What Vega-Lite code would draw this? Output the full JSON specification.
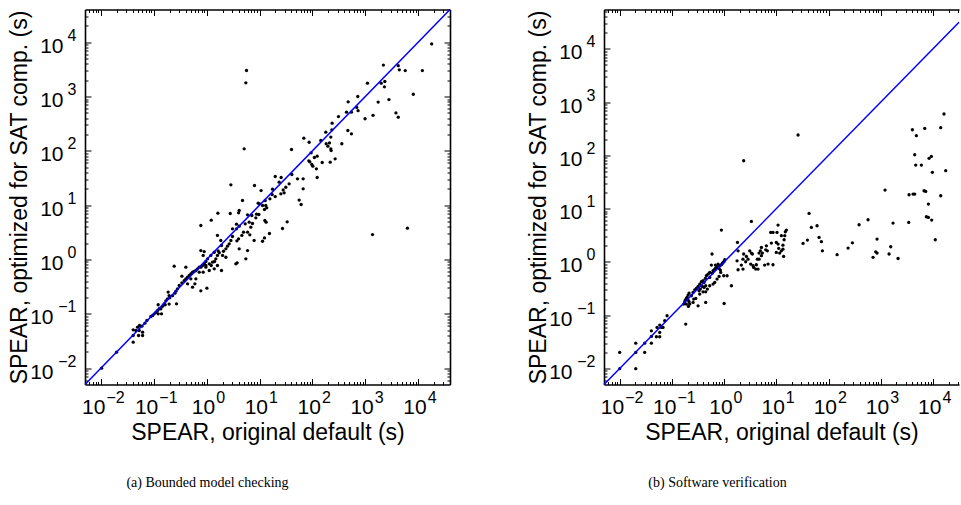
{
"$schema": "https://vega.github.io/schema/vega-lite/v6.json",
"padding": {"left": 8, "top": 6.5, "right": 0, "bottom": 0},
"background": "white",
"bounds": "flush",
"spacing": 154,
"config": {"view": {"stroke": null}, "axis": {"grid": false, "labelFont": "Liberation Sans", "titleFont": "Liberation Sans", "labelColor": "black", "titleColor": "black", "domainColor": "black", "tickColor": "black", "titleFontWeight": "normal", "labelFontSize": 21, "titleFontSize": 23, "domainWidth": 1.6, "tickWidth": 1, "labelFlush": false, "labelOverlap": false, "labelBound": false}},
"datasets": {
"bmc": [
{"x":18000,"y":9300},{"x":2200,"y":3800},{"x":4200,"y":3700},{"x":4400,"y":3100},{"x":5700,"y":3000},{"x":12000,"y":3000},{"x":1100,"y":1760},{"x":2000,"y":1760},{"x":2340,"y":1890},{"x":2300,"y":1510},{"x":8100,"y":1100},{"x":2800,"y":880},{"x":1750,"y":790},{"x":720,"y":1000},{"x":474,"y":800},{"x":690,"y":630},{"x":730,"y":550},{"x":990,"y":390},{"x":1400,"y":450},{"x":3800,"y":500},{"x":4200,"y":417},{"x":441,"y":515},{"x":547,"y":515},{"x":311,"y":428},{"x":236,"y":323},{"x":233,"y":244},{"x":468,"y":237},{"x":547,"y":206},{"x":223,"y":179},{"x":210,"y":140},{"x":196,"y":122},{"x":226,"y":101},{"x":360,"y":135},{"x":179,"y":221},{"x":144,"y":155},{"x":68.8,"y":171},{"x":86.7,"y":144},{"x":94.6,"y":91.9},{"x":109,"y":75.4},{"x":123,"y":79.8},{"x":85.5,"y":65.5},{"x":89.3,"y":62.8},{"x":97.5,"y":56},{"x":102,"y":52.2},{"x":119,"y":46.6},{"x":153,"y":61},{"x":217,"y":61.9},{"x":269,"y":71.3},{"x":223,"y":109},{"x":182,"y":135},{"x":123,"y":32.3},{"x":40.2,"y":106},{"x":40.8,"y":36.7},{"x":52.2,"y":30.5},{"x":66.8,"y":30.5},{"x":66.8,"y":20},{"x":36.3,"y":24.7},{"x":19.8,"y":33.7},{"x":25.6,"y":32.3},{"x":23.5,"y":26.5},{"x":17.6,"y":19.7},{"x":31.4,"y":21.4},{"x":28,"y":19.1},{"x":29.2,"y":16.9},{"x":25.3,"y":16.2},{"x":19.8,"y":14.4},{"x":15.7,"y":13.1},{"x":13.7,"y":8.93},{"x":13.1,"y":9.86},{"x":17.3,"y":15.7},{"x":12.8,"y":12.2},{"x":9.98,"y":10.6},{"x":9.42,"y":10.9},{"x":11.4,"y":9.86},{"x":56.1,"y":12.4},{"x":61.2,"y":10.3},{"x":8.03,"y":23},{"x":10.7,"y":18.6},{"x":33.3,"y":4.93},{"x":27.2,"y":3.72},{"x":15.4,"y":3.01},{"x":12.6,"y":5.22},{"x":13.3,"y":4.86},{"x":11.4,"y":2.17},{"x":12.4,"y":2.5},{"x":8.51,"y":5.85},{"x":7.15,"y":6.45},{"x":7.36,"y":4.6},{"x":6.37,"y":4.86},{"x":6.84,"y":3.94},{"x":5.93,"y":3.18},{"x":8.77,"y":6.83},{"x":9.71,"y":6.73},{"x":12.4,"y":8.32},{"x":2.87,"y":23.7},{"x":4.76,"y":12.2},{"x":4.12,"y":7.98},{"x":4.01,"y":7.22},{"x":2.79,"y":7.02},{"x":3.67,"y":4.47},{"x":4.12,"y":4.11},{"x":5.93,"y":6.64},{"x":5.35,"y":4.53},{"x":4.98,"y":3.18},{"x":4.63,"y":2.77},{"x":4.01,"y":2.4},{"x":3.73,"y":2.21},{"x":3.67,"y":3.67},{"x":3.08,"y":3.67},{"x":3.08,"y":2.65},{"x":2.87,"y":2.24},{"x":2.67,"y":1.94},{"x":2.48,"y":1.76},{"x":2.31,"y":1.57},{"x":1.85,"y":2.24},{"x":1.91,"y":1.81},{"x":2.08,"y":1.42},{"x":1.65,"y":1.44},{"x":1.73,"y":1.33},{"x":2.0,"y":1.19},{"x":1.6,"y":1.19},{"x":1.49,"y":1.03},{"x":1.41,"y":0.919},{"x":1.29,"y":0.893},{"x":1.22,"y":0.776},{"x":1.63,"y":7.12},{"x":1.22,"y":5.3},{"x":0.776,"y":4.22},{"x":1.6,"y":2.77},{"x":2.31,"y":1.1},{"x":4.12,"y":1.57},{"x":5.93,"y":1.46},{"x":5.51,"y":1.03},{"x":6.55,"y":2.84},{"x":7.9,"y":2.24},{"x":3.56,"y":0.832},{"x":3.78,"y":0.868},{"x":1.91,"y":0.628},{"x":1.04,"y":1.03},{"x":0.966,"y":0.919},{"x":0.898,"y":0.832},{"x":0.835,"y":0.776},{"x":0.776,"y":0.723},{"x":0.723,"y":0.723},{"x":0.671,"y":0.673},{"x":0.625,"y":0.628},{"x":0.581,"y":0.601},{"x":0.541,"y":0.585},{"x":0.502,"y":0.545},{"x":0.468,"y":0.508},{"x":0.435,"y":0.473},{"x":0.404,"y":0.441},{"x":0.376,"y":0.41},{"x":0.34,"y":0.372},{"x":0.435,"y":0.356},{"x":0.502,"y":0.441},{"x":0.625,"y":0.441},{"x":0.723,"y":0.585},{"x":0.966,"y":0.723},{"x":1.12,"y":0.832},{"x":1.2,"y":1.19},{"x":1.39,"y":1.36},{"x":0.898,"y":1.4},{"x":0.776,"y":1.46},{"x":0.859,"y":1.19},{"x":1.01,"y":0.297},{"x":0.776,"y":0.265},{"x":1.6,"y":0.776},{"x":1.39,"y":0.673},{"x":1.12,"y":0.628},{"x":0.859,"y":0.585},{"x":0.966,"y":0.776},{"x":0.599,"y":0.356},{"x":0.541,"y":0.31},{"x":0.404,"y":0.723},{"x":0.243,"y":0.754},{"x":0.34,"y":0.493},{"x":0.303,"y":0.332},{"x":0.281,"y":0.288},{"x":0.262,"y":0.261},{"x":0.251,"y":0.24},{"x":0.226,"y":0.217},{"x":0.201,"y":0.197},{"x":0.182,"y":0.189},{"x":0.169,"y":0.173},{"x":0.157,"y":0.153},{"x":0.146,"y":0.138},{"x":0.136,"y":0.124},{"x":0.127,"y":0.124},{"x":0.118,"y":0.115},{"x":0.11,"y":0.107},{"x":0.102,"y":0.1},{"x":0.0947,"y":0.0931},{"x":0.0881,"y":0.0893},{"x":0.121,"y":0.147},{"x":0.187,"y":0.251},{"x":0.195,"y":0.217},{"x":0.195,"y":0.151},{"x":0.269,"y":0.153},{"x":0.164,"y":0.147},{"x":0.121,"y":0.1},{"x":0.14,"y":0.1},{"x":0.0741,"y":0.0754},{"x":0.0679,"y":0.0673},{"x":0.0596,"y":0.0593},{"x":0.0538,"y":0.061},{"x":0.0493,"y":0.0569},{"x":0.0408,"y":0.0508},{"x":0.0458,"y":0.0493},{"x":0.053,"y":0.0493},{"x":0.0614,"y":0.046},{"x":0.0408,"y":0.0399},{"x":0.0515,"y":0.0399},{"x":0.0614,"y":0.0399},{"x":0.0408,"y":0.0301},{"x":0.0198,"y":0.0197},{"x":0.0103,"y":0.01},{"x":1370,"y":2.88},{"x":6270,"y":3.77},{"x":5.67,"y":3010},{"x":5.51,"y":1790},{"x":5.12,"y":109}
],
"swv": [
{"x":16300,"y":600},{"x":4040,"y":304},{"x":6970,"y":322},{"x":14100,"y":332},{"x":4820,"y":235},{"x":4480,"y":103},{"x":4680,"y":66},{"x":6010,"y":66},{"x":8430,"y":88.1},{"x":9350,"y":96},{"x":17600,"y":51.7},{"x":9770,"y":48.1},{"x":1210,"y":22.4},{"x":3490,"y":18.3},{"x":4160,"y":18.8},{"x":4480,"y":18.8},{"x":6760,"y":21.7},{"x":7280,"y":21.1},{"x":14100,"y":17.5},{"x":8190,"y":12.2},{"x":3440,"y":5.53},{"x":7500,"y":7.06},{"x":8190,"y":6.85},{"x":9480,"y":6.11},{"x":11100,"y":2.61},{"x":26.1,"y":242},{"x":2.37,"y":79.6},{"x":42.4,"y":8.16},{"x":32.5,"y":2.23},{"x":39.4,"y":2.57},{"x":46.9,"y":4.45},{"x":60.3,"y":4.79},{"x":65.9,"y":2.89},{"x":73,"y":2.4},{"x":76.3,"y":1.62},{"x":146,"y":1.37},{"x":237,"y":1.82},{"x":287,"y":2.29},{"x":385,"y":5.0},{"x":572,"y":6.21},{"x":851,"y":2.69},{"x":713,"y":1.22},{"x":802,"y":1.55},{"x":851,"y":1.47},{"x":1445,"y":1.41},{"x":1556,"y":1.93},{"x":1722,"y":5.37},{"x":2148,"y":1.16},{"x":0.887,"y":3.97},{"x":3.33,"y":5.77},{"x":10.8,"y":4.93},{"x":10.3,"y":3.59},{"x":7.81,"y":3.59},{"x":8.64,"y":3.59},{"x":15.6,"y":3.97},{"x":14.9,"y":3.69},{"x":14.5,"y":3.11},{"x":12.5,"y":3.11},{"x":14.1,"y":2.61},{"x":10,"y":2.33},{"x":10.8,"y":2.17},{"x":11.1,"y":1.8},{"x":13.4,"y":2.07},{"x":13.4,"y":1.74},{"x":12.5,"y":1.62},{"x":13.8,"y":1.27},{"x":10,"y":1.51},{"x":11.6,"y":1.47},{"x":8.04,"y":2.26},{"x":6.45,"y":2.01},{"x":6.27,"y":1.69},{"x":6.74,"y":1.62},{"x":6.95,"y":0.912},{"x":8.64,"y":0.885},{"x":5.98,"y":0.873},{"x":5.18,"y":1.87},{"x":4.95,"y":1.62},{"x":4.67,"y":1.47},{"x":5.41,"y":1.47},{"x":5.18,"y":1.31},{"x":4.67,"y":1.13},{"x":4.33,"y":1.13},{"x":4.15,"y":0.885},{"x":4.03,"y":0.734},{"x":3.48,"y":1.41},{"x":3.33,"y":1.47},{"x":3.09,"y":1.62},{"x":2.67,"y":1.27},{"x":2.87,"y":1.13},{"x":2.59,"y":1.01},{"x":2.37,"y":1.41},{"x":2.3,"y":1.13},{"x":1.8,"y":2.33},{"x":1.85,"y":1.62},{"x":1.77,"y":1.05},{"x":1.85,"y":0.714},{"x":2.14,"y":0.873},{"x":3.58,"y":0.849},{"x":3.69,"y":0.789},{"x":3.23,"y":0.912},{"x":4.47,"y":0.734},{"x":2.3,"y":0.734},{"x":1.03,"y":1.1},{"x":1.0,"y":1.02},{"x":0.954,"y":0.98},{"x":0.926,"y":0.938},{"x":0.887,"y":0.885},{"x":0.824,"y":0.849},{"x":0.765,"y":0.912},{"x":0.732,"y":0.812},{"x":0.8,"y":0.756},{"x":0.69,"y":0.767},{"x":0.661,"y":0.734},{"x":0.614,"y":0.683},{"x":0.596,"y":0.618},{"x":0.681,"y":0.873},{"x":0.57,"y":0.873},{"x":0.848,"y":0.703},{"x":0.861,"y":0.636},{"x":0.8,"y":0.535},{"x":0.732,"y":0.477},{"x":0.661,"y":0.413},{"x":0.982,"y":0.551},{"x":1.14,"y":0.551},{"x":1.38,"y":0.357},{"x":1.0,"y":0.166},{"x":0.587,"y":1.41},{"x":0.53,"y":0.636},{"x":0.492,"y":0.59},{"x":0.457,"y":0.551},{"x":0.438,"y":0.491},{"x":0.53,"y":0.513},{"x":0.614,"y":0.384},{"x":0.444,"y":0.357},{"x":0.413,"y":0.413},{"x":0.395,"y":0.444},{"x":0.367,"y":0.425},{"x":0.341,"y":0.384},{"x":0.383,"y":0.347},{"x":0.413,"y":0.332},{"x":0.351,"y":0.309},{"x":0.317,"y":0.347},{"x":0.294,"y":0.318},{"x":0.274,"y":0.3},{"x":0.331,"y":0.288},{"x":0.395,"y":0.275},{"x":0.341,"y":0.249},{"x":0.444,"y":0.275},{"x":0.478,"y":0.309},{"x":0.53,"y":0.357},{"x":0.286,"y":0.207},{"x":0.444,"y":0.174},{"x":0.317,"y":0.15},{"x":0.254,"y":0.267},{"x":0.236,"y":0.232},{"x":0.213,"y":0.26},{"x":0.204,"y":0.239},{"x":0.195,"y":0.216},{"x":0.189,"y":0.207},{"x":0.181,"y":0.192},{"x":0.176,"y":0.179},{"x":0.204,"y":0.192},{"x":0.213,"y":0.179},{"x":0.219,"y":0.162},{"x":0.189,"y":0.162},{"x":0.168,"y":0.162},{"x":0.207,"y":0.146},{"x":0.254,"y":0.174},{"x":0.262,"y":0.201},{"x":0.184,"y":0.0681},{"x":0.0807,"y":0.0976},{"x":0.0728,"y":0.0786},{"x":0.0676,"y":0.0589},{"x":0.0628,"y":0.0589},{"x":0.0584,"y":0.0652},{"x":0.0519,"y":0.0589},{"x":0.0584,"y":0.0475},{"x":0.0584,"y":0.0394},{"x":0.0504,"y":0.0394},{"x":0.0404,"y":0.0509},{"x":0.0404,"y":0.0399},{"x":0.0404,"y":0.0299},{"x":0.0301,"y":0.0299},{"x":0.0301,"y":0.02},{"x":0.0203,"y":0.0299},{"x":0.0203,"y":0.02},{"x":0.0203,"y":0.0099},{"x":0.01,"y":0.02},{"x":0.01,"y":0.0099}
],
"diag_a": [{"x":0.005,"y":0.005},{"x":40000,"y":40000}],
"diag_b": [{"x":0.005,"y":0.005},{"x":31600,"y":31600}]
},
"hconcat": [
{
"width": 365, "height": 375,
"title": {"text": "(a) Bounded model checking", "orient": "bottom", "anchor": "middle", "frame": "group", "font": "Liberation Serif", "fontSize": 14, "fontWeight": "normal", "color": "black", "baseline": "alphabetic", "offset": 42, "dx": -60},
"layer": [
{"data": {"name": "bmc"}, "mark": {"type": "circle", "size": 11, "color": "black", "opacity": 1},
 "encoding": {
  "x": {"field": "x", "type": "quantitative", "scale": {"type": "log", "domain": [0.005, 40000], "nice": false}, "axis": {"orient": "bottom", "values": [0.01,0.1,1,10,100,1000,10000], "labelExpr": "'10'", "labelAlign": "right", "labelOffset": {"condition": {"test": "datum.value < 1", "value": 4}, "value": 8}, "ticks": false, "tickSize": 0, "domain": true, "labelBaseline": "alphabetic", "labelPadding": 29, "minExtent": 36, "maxExtent": 36, "title": "SPEAR, original default (s)", "titleBaseline": "alphabetic", "titlePadding": 19}},
  "y": {"field": "y", "type": "quantitative", "scale": {"type": "log", "domain": [0.005, 40000], "nice": false}, "axis": {"orient": "left", "values": [0.01,0.1,1,10,100,1000,10000], "labelExpr": "'10'", "ticks": false, "tickSize": 0, "domain": true, "labelBaseline": "alphabetic", "labelAlign": "right", "labelPadding": {"condition": {"test": "datum.value < 1", "value": 32}, "value": 22}, "labelOffset": 10, "minExtent": 46, "maxExtent": 46, "title": "SPEAR, optimized for SAT comp. (s)", "titleBaseline": "alphabetic", "titlePadding": 13}}
 }},
{"data": {"name": "diag_a"}, "mark": {"type": "line", "color": "#0000ff", "strokeWidth": 1.5},
 "encoding": {
  "x": {"field": "x", "type": "quantitative", "scale": {"type": "log", "domain": [0.005, 40000], "nice": false}, "axis": {"orient": "top", "values": [0.01,0.1,1,10,100,1000,10000], "labels": false, "title": null, "tickSize": -6, "domain": true}},
  "y": {"field": "y", "type": "quantitative", "scale": {"type": "log", "domain": [0.005, 40000], "nice": false}, "axis": {"orient": "right", "values": [0.01,0.1,1,10,100,1000,10000], "labels": false, "title": null, "tickSize": -6, "domain": true}}
 }},
{"data": {"name": "diag_a"}, "mark": {"type": "line", "opacity": 0},
 "encoding": {
  "x": {"field": "x", "type": "quantitative", "scale": {"type": "log", "domain": [0.005, 40000], "nice": false}, "axis": {"orient": "bottom", "values": [0.01,0.1,1,10,100,1000,10000], "labels": false, "title": null, "tickSize": -6, "domain": false}},
  "y": {"field": "y", "type": "quantitative", "scale": {"type": "log", "domain": [0.005, 40000], "nice": false}, "axis": {"orient": "left", "values": [0.01,0.1,1,10,100,1000,10000], "labels": false, "title": null, "tickSize": -6, "domain": false}}
 }},
{"data": {"name": "diag_a"}, "mark": {"type": "line", "opacity": 0},
 "encoding": {
  "x": {"field": "x", "type": "quantitative", "scale": {"type": "log", "domain": [0.005, 40000], "nice": false}, "axis": {"orient": "bottom", "values": [0.006,0.007,0.008,0.009,0.02,0.03,0.04,0.05,0.06,0.07,0.08,0.09,0.2,0.3,0.4,0.5,0.6,0.7,0.8,0.9,2,3,4,5,6,7,8,9,20,30,40,50,60,70,80,90,200,300,400,500,600,700,800,900,2000,3000,4000,5000,6000,7000,8000,9000,20000,30000], "labels": false, "title": null, "tickSize": -3, "domain": false}},
  "y": {"field": "y", "type": "quantitative", "scale": {"type": "log", "domain": [0.005, 40000], "nice": false}, "axis": {"orient": "left", "values": [0.006,0.007,0.008,0.009,0.02,0.03,0.04,0.05,0.06,0.07,0.08,0.09,0.2,0.3,0.4,0.5,0.6,0.7,0.8,0.9,2,3,4,5,6,7,8,9,20,30,40,50,60,70,80,90,200,300,400,500,600,700,800,900,2000,3000,4000,5000,6000,7000,8000,9000,20000,30000], "labels": false, "title": null, "tickSize": -3, "domain": false}}
 }},
{"data": {"name": "diag_a"}, "mark": {"type": "line", "opacity": 0},
 "encoding": {
  "x": {"field": "x", "type": "quantitative", "scale": {"type": "log", "domain": [0.005, 40000], "nice": false}, "axis": {"orient": "top", "values": [0.006,0.007,0.008,0.009,0.02,0.03,0.04,0.05,0.06,0.07,0.08,0.09,0.2,0.3,0.4,0.5,0.6,0.7,0.8,0.9,2,3,4,5,6,7,8,9,20,30,40,50,60,70,80,90,200,300,400,500,600,700,800,900,2000,3000,4000,5000,6000,7000,8000,9000,20000,30000], "labels": false, "title": null, "tickSize": -3, "domain": false}},
  "y": {"field": "y", "type": "quantitative", "scale": {"type": "log", "domain": [0.005, 40000], "nice": false}, "axis": {"orient": "right", "values": [0.006,0.007,0.008,0.009,0.02,0.03,0.04,0.05,0.06,0.07,0.08,0.09,0.2,0.3,0.4,0.5,0.6,0.7,0.8,0.9,2,3,4,5,6,7,8,9,20,30,40,50,60,70,80,90,200,300,400,500,600,700,800,900,2000,3000,4000,5000,6000,7000,8000,9000,20000,30000], "labels": false, "title": null, "tickSize": -3, "domain": false}}
 }},
{"data": {"name": "diag_a"}, "mark": {"type": "line", "opacity": 0},
 "encoding": {
  "x": {"field": "x", "type": "quantitative", "scale": {"type": "log", "domain": [0.005, 40000], "nice": false}, "axis": {"orient": "bottom", "values": [0.01,0.1,1,10,100,1000,10000], "labelExpr": "(datum.value < 1 ? '−' : '') + abs(round(log(datum.value)/LN10))", "labelFontSize": 16, "labelAlign": "left", "labelOffset": {"condition": {"test": "datum.value < 1", "value": 5}, "value": 9}, "labelBaseline": "alphabetic", "labelPadding": 18, "ticks": false, "tickSize": 0, "domain": false, "title": null}},
  "y": {"field": "y", "type": "quantitative", "scale": {"type": "log", "domain": [0.005, 40000], "nice": false}, "axis": {"orient": "left", "values": [0.01,0.1,1,10,100,1000,10000], "labelExpr": "(datum.value < 1 ? '−' : '') + abs(round(log(datum.value)/LN10))", "labelFontSize": 16, "labelAlign": "right", "labelOffset": -2, "labelBaseline": "alphabetic", "labelPadding": 9, "ticks": false, "tickSize": 0, "domain": false, "title": null}}
 }}
],
"resolve": {"axis": {"x": "independent", "y": "independent"}}
},
{
"width": 355, "height": 375,
"title": {"text": "(b) Software verification", "orient": "bottom", "anchor": "middle", "frame": "group", "font": "Liberation Serif", "fontSize": 14, "fontWeight": "normal", "color": "black", "baseline": "alphabetic", "offset": 42, "dx": -64},
"layer": [
{"data": {"name": "swv"}, "mark": {"type": "circle", "size": 11, "color": "black", "opacity": 1},
 "encoding": {
  "x": {"field": "x", "type": "quantitative", "scale": {"type": "log", "domain": [0.005, 31600], "nice": false}, "axis": {"orient": "bottom", "values": [0.01,0.1,1,10,100,1000,10000], "labelExpr": "'10'", "labelAlign": "right", "labelOffset": {"condition": {"test": "datum.value < 1", "value": 4}, "value": 8}, "ticks": false, "tickSize": 0, "domain": true, "labelBaseline": "alphabetic", "labelPadding": 29, "minExtent": 36, "maxExtent": 36, "title": "SPEAR, original default (s)", "titleBaseline": "alphabetic", "titlePadding": 19}},
  "y": {"field": "y", "type": "quantitative", "scale": {"type": "log", "domain": [0.005, 55000], "nice": false}, "axis": {"orient": "left", "values": [0.01,0.1,1,10,100,1000,10000], "labelExpr": "'10'", "ticks": false, "tickSize": 0, "domain": true, "labelBaseline": "alphabetic", "labelAlign": "right", "labelPadding": {"condition": {"test": "datum.value < 1", "value": 32}, "value": 22}, "labelOffset": 10, "minExtent": 46, "maxExtent": 46, "title": "SPEAR, optimized for SAT comp. (s)", "titleBaseline": "alphabetic", "titlePadding": 13}}
 }},
{"data": {"name": "diag_b"}, "mark": {"type": "line", "color": "#0000ff", "strokeWidth": 1.5},
 "encoding": {
  "x": {"field": "x", "type": "quantitative", "scale": {"type": "log", "domain": [0.005, 31600], "nice": false}, "axis": {"orient": "top", "values": [0.01,0.1,1,10,100,1000,10000], "labels": false, "title": null, "tickSize": -6, "domain": true}},
  "y": {"field": "y", "type": "quantitative", "scale": {"type": "log", "domain": [0.005, 55000], "nice": false}, "axis": {"orient": "left", "values": [0.01,0.1,1,10,100,1000,10000], "labels": false, "title": null, "tickSize": -6, "domain": false}}
 }},
{"data": {"name": "diag_b"}, "mark": {"type": "line", "opacity": 0},
 "encoding": {
  "x": {"field": "x", "type": "quantitative", "scale": {"type": "log", "domain": [0.005, 31600], "nice": false}, "axis": {"orient": "bottom", "values": [0.01,0.1,1,10,100,1000,10000], "labels": false, "title": null, "tickSize": -6, "domain": false}},
  "y": {"field": "y", "type": "quantitative", "scale": {"type": "log", "domain": [0.005, 55000], "nice": false}, "axis": {"orient": "left", "values": [0.006,0.007,0.008,0.009,0.02,0.03,0.04,0.05,0.06,0.07,0.08,0.09,0.2,0.3,0.4,0.5,0.6,0.7,0.8,0.9,2,3,4,5,6,7,8,9,20,30,40,50,60,70,80,90,200,300,400,500,600,700,800,900,2000,3000,4000,5000,6000,7000,8000,9000,20000,30000,40000,50000], "labels": false, "title": null, "tickSize": -3, "domain": false}}
 }},
{"data": {"name": "diag_b"}, "mark": {"type": "line", "opacity": 0},
 "encoding": {
  "x": {"field": "x", "type": "quantitative", "scale": {"type": "log", "domain": [0.005, 31600], "nice": false}, "axis": {"orient": "bottom", "values": [0.006,0.007,0.008,0.009,0.02,0.03,0.04,0.05,0.06,0.07,0.08,0.09,0.2,0.3,0.4,0.5,0.6,0.7,0.8,0.9,2,3,4,5,6,7,8,9,20,30,40,50,60,70,80,90,200,300,400,500,600,700,800,900,2000,3000,4000,5000,6000,7000,8000,9000,20000,30000], "labels": false, "title": null, "tickSize": -3, "domain": false}},
  "y": {"field": "y", "type": "quantitative", "scale": {"type": "log", "domain": [0.005, 55000], "nice": false}, "axis": {"orient": "left", "values": [0.01,0.1,1,10,100,1000,10000], "labelExpr": "(datum.value < 1 ? '−' : '') + abs(round(log(datum.value)/LN10))", "labelFontSize": 16, "labelAlign": "right", "labelOffset": -2, "labelBaseline": "alphabetic", "labelPadding": 9, "ticks": false, "tickSize": 0, "domain": false, "title": null}}
 }},
{"data": {"name": "diag_b"}, "mark": {"type": "line", "opacity": 0},
 "encoding": {
  "x": {"field": "x", "type": "quantitative", "scale": {"type": "log", "domain": [0.005, 31600], "nice": false}, "axis": {"orient": "top", "values": [0.006,0.007,0.008,0.009,0.02,0.03,0.04,0.05,0.06,0.07,0.08,0.09,0.2,0.3,0.4,0.5,0.6,0.7,0.8,0.9,2,3,4,5,6,7,8,9,20,30,40,50,60,70,80,90,200,300,400,500,600,700,800,900,2000,3000,4000,5000,6000,7000,8000,9000,20000,30000], "labels": false, "title": null, "tickSize": -3, "domain": false}},
  "y": {"field": "y", "type": "quantitative", "scale": {"type": "log", "domain": [0.005, 55000], "nice": false}, "axis": null}
 }},
{"data": {"name": "diag_b"}, "mark": {"type": "line", "opacity": 0},
 "encoding": {
  "x": {"field": "x", "type": "quantitative", "scale": {"type": "log", "domain": [0.005, 31600], "nice": false}, "axis": {"orient": "bottom", "values": [0.01,0.1,1,10,100,1000,10000], "labelExpr": "(datum.value < 1 ? '−' : '') + abs(round(log(datum.value)/LN10))", "labelFontSize": 16, "labelAlign": "left", "labelOffset": {"condition": {"test": "datum.value < 1", "value": 5}, "value": 9}, "labelBaseline": "alphabetic", "labelPadding": 18, "ticks": false, "tickSize": 0, "domain": false, "title": null}},
  "y": {"field": "y", "type": "quantitative", "scale": {"type": "log", "domain": [0.005, 55000], "nice": false}, "axis": null}
 }}
],
"resolve": {"axis": {"x": "independent", "y": "independent"}}
}
]
}
